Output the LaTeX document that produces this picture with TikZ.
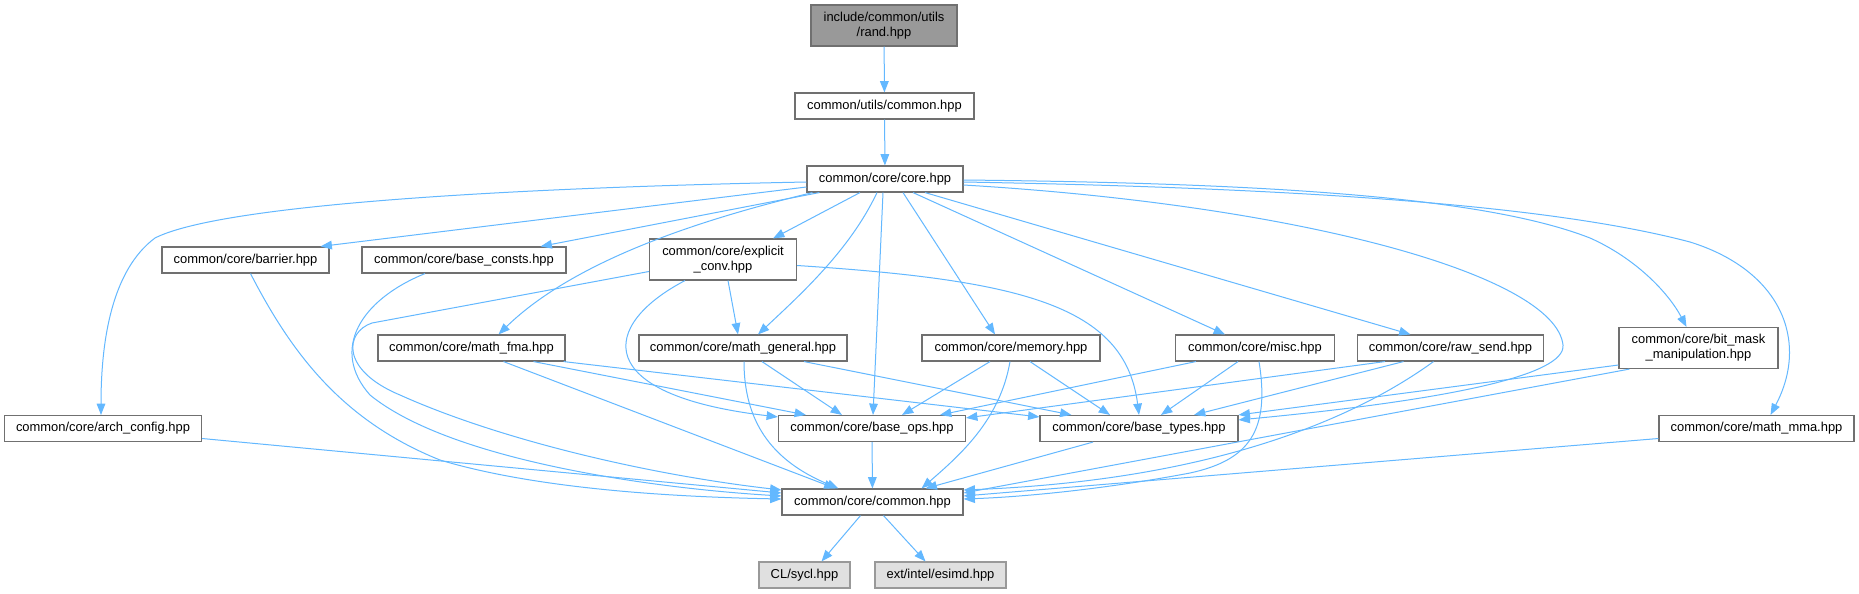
\documentclass[tikz,border=0pt]{standalone}
\usepackage{fontspec}
\setmainfont{Liberation Sans}
\usepackage{xcolor}
\usepackage{tikz}
\usetikzlibrary{arrows.meta,calc}

\definecolor{edgeblue}{HTML}{63B8FF}
\definecolor{boxline}{HTML}{707070}
\definecolor{rootfill}{HTML}{999999}
\definecolor{extfill}{HTML}{E0E0E0}
\definecolor{extline}{HTML}{999999}

\begin{document}
\begin{tikzpicture}[
  x=0.75pt,
  y=-0.75pt,
  file/.style={draw=boxline, fill=white, line width=0.85pt, minimum height=19.5pt,
    inner sep=0pt, align=center, font=\fontsize{9.7}{11.25}\selectfont},
  rootfile/.style={file, fill=rootfill, minimum height=30.75pt},
  twoline/.style={file, minimum height=30.75pt},
  extfile/.style={file, draw=extline, fill=extfill},
  dep/.style={draw=edgeblue, line width=0.75pt, -{Triangle[length=8.5pt,width=6.5pt]}}
]

% Canvas: coordinates are pixels of the 1859 x 593 reference.
\fill[white] (0,0) rectangle (1859,593);

% Files, row by row.
\node[rootfile, minimum width=109.5pt] (rand) at (884,25.5) {include/common/utils\\/rand.hpp};
\node[file, minimum width=134.25pt] (utils) at (884.5,106) {common/utils/common.hpp};
\node[file, minimum width=117pt] (core) at (885,179) {common/core/core.hpp};

\node[file, minimum width=125.25pt] (barrier) at (245.5,260) {common/core/barrier.hpp};
\node[file, minimum width=153pt] (baseconsts) at (464,260) {common/core/base\_consts.hpp};
\node[twoline, minimum width=110.25pt] (explicit) at (723,259.5) {common/core/explicit\\\_conv.hpp};

\node[file, minimum width=140.25pt] (mathfma) at (471.5,348) {common/core/math\_fma.hpp};
\node[file, minimum width=156pt] (mathgen) at (743,348) {common/core/math\_general.hpp};
\node[file, minimum width=133.5pt] (memory) at (1011,348) {common/core/memory.hpp};
\node[file, minimum width=119.25pt] (misc) at (1255,348) {common/core/misc.hpp};
\node[file, minimum width=139.5pt] (rawsend) at (1450.5,348) {common/core/raw\_send.hpp};
\node[twoline, minimum width=119.25pt] (bitmask) at (1698.5,348) {common/core/bit\_mask\\\_manipulation.hpp};

\node[file, minimum width=147.75pt] (arch) at (103,428.5) {common/core/arch\_config.hpp};
\node[file, minimum width=140.25pt] (baseops) at (872,428.5) {common/core/base\_ops.hpp};
\node[file, minimum width=148.5pt] (basetypes) at (1139,428.5) {common/core/base\_types.hpp};
\node[file, minimum width=146.25pt] (mathmma) at (1756.5,428.5) {common/core/math\_mma.hpp};

\node[file, minimum width=135.75pt] (common) at (872.5,502) {common/core/common.hpp};
\node[extfile, minimum width=68.25pt] (sycl) at (804.5,575) {CL/sycl.hpp};
\node[extfile, minimum width=98.25pt] (esimd) at (940.5,575) {ext/intel/esimd.hpp};

% Top chain.
\draw[dep] (rand) -- (utils);
\draw[dep] (utils) -- (core);

% Everything core.hpp pulls in.
\draw[dep] ($(core.west)+(0,3)$) .. controls (500,188) and (220,205) .. (155,238)
  .. controls (112,270) and (101,340) .. ($(arch.north)+(-2,0)$);
\draw[dep] ($(core.west)+(0,8)$) -- ($(barrier.north east)+(-9,0)$);
\draw[dep] ($(core.south west)+(13,0)$) -- ($(baseconsts.north east)+(-26,0)$);
\draw[dep] ($(core.south west)+(6,0)$) .. controls (720,215) and (580,255) .. ($(mathfma.north)+(27,0)$);
\draw[dep] ($(core.south)+(-25,0)$) -- ($(explicit.north east)+(-24,0)$);
\draw[dep] ($(core.south)+(-8,0)$) .. controls (850,250) and (800,295) .. ($(mathgen.north)+(15,0)$);
\draw[dep] ($(core.south)+(-2,0)$) -- ($(baseops.north)+(1,0)$);
\draw[dep] ($(core.south)+(18,0)$) -- ($(memory.north)+(-16,0)$);
\draw[dep] ($(core.south)+(28,0)$) -- ($(misc.north)+(-30,0)$);
\draw[dep] ($(core.south)+(40,0)$) -- ($(rawsend.north)+(-40,0)$);
\draw[dep] ($(core.east)+(0,6)$) .. controls (1300,205) and (1555,275) .. (1563,345)
  .. controls (1566,375) and (1450,400) .. ($(basetypes.north east)+(0,5)$);
\draw[dep] ($(core.east)+(0,1)$) .. controls (1250,183) and (1480,195) .. (1590,238)
  .. controls (1635,258) and (1668,292) .. ($(bitmask.north)+(-12,0)$);
\draw[dep] ($(core.east)+(0,3)$) .. controls (1300,188) and (1550,205) .. (1690,242)
  .. controls (1780,270) and (1810,340) .. ($(mathmma.north)+(14,0)$);

% explicit_conv.hpp
\draw[dep] ($(explicit.south)+(5,0)$) -- ($(mathgen.north)+(-5,0)$);
\draw[dep] ($(explicit.south)+(-38,0)$) .. controls (600,325) and (590,395) .. ($(baseops.north west)+(0,2)$);
\draw[dep] ($(explicit.east)+(0,6)$) .. controls (1020,280) and (1125,305) .. (basetypes.north);
\draw[dep] ($(explicit.west)+(0,12)$) -- (372,323) .. controls (345,332) and (340,370) .. (400,395)
  .. controls (500,440) and (650,475) .. ($(common.west)+(0,-12)$);

% Left column into common.hpp.
\draw[dep] ($(arch.east)+(0,10)$) -- ($(common.west)+(0,-9)$);
\draw[dep] ($(barrier.south)+(5,0)$) .. controls (290,350) and (340,420) .. (440,460)
  .. controls (540,490) and (680,497) .. ($(common.west)+(0,-3)$);
\draw[dep] ($(baseconsts.south)+(-39,0)$) .. controls (360,300) and (330,350) .. (370,395)
  .. controls (450,460) and (650,488) .. ($(common.west)+(0,-6)$);

% math_fma.hpp and math_general.hpp
\draw[dep] ($(mathfma.south)+(32,0)$) -- ($(common.north west)+(54,0)$);
\draw[dep] ($(mathfma.south)+(62,0)$) -- ($(baseops.north west)+(28,0)$);
\draw[dep] ($(mathfma.south east)+(-2,0)$) -- ($(basetypes.north west)+(0,2)$);
\draw[dep] ($(mathgen.south)+(1,0)$) .. controls (744,420) and (770,460) .. ($(common.north west)+(57,0)$);
\draw[dep] ($(mathgen.south)+(19,0)$) -- ($(baseops.north west)+(64,0)$);
\draw[dep] ($(mathgen.south)+(61,0)$) -- ($(basetypes.north west)+(32,0)$);

% memory.hpp, misc.hpp, raw_send.hpp
\draw[dep] ($(memory.south)+(-21,0)$) -- ($(baseops.north)+(30,0)$);
\draw[dep] ($(memory.south)+(-1,0)$) .. controls (1000,420) and (960,455) .. ($(common.north east)+(-42,0)$);
\draw[dep] ($(memory.south)+(19,0)$) -- ($(basetypes.north)+(-29,0)$);
\draw[dep] ($(misc.south west)+(21,0)$) -- ($(baseops.north)+(68,0)$);
\draw[dep] ($(misc.south)+(-17,0)$) -- ($(basetypes.north)+(22,0)$);
\draw[dep] ($(misc.south)+(4,0)$) .. controls (1270,430) and (1250,460) .. (1190,473)
  .. controls (1100,490) and (1020,497) .. ($(common.east)+(0,-3)$);
\draw[dep] ($(rawsend.south west)+(28,0)$) -- ($(baseops.north east)+(0,3)$);
\draw[dep] ($(rawsend.south)+(-47,0)$) -- ($(basetypes.north)+(55,0)$);
\draw[dep] ($(rawsend.south)+(-17,0)$) .. controls (1360,415) and (1220,480) .. ($(common.east)+(0,-12)$);

% Right column.
\draw[dep] ($(bitmask.west)+(0,17)$) -- (basetypes.north east);
\draw[dep] ($(bitmask.south west)+(11,0)$) -- ($(common.east)+(0,-9)$);
\draw[dep] ($(mathmma.west)+(0,10)$) -- ($(common.east)+(0,-6)$);

% Bottom.
\draw[dep] (baseops) -- (common);
\draw[dep] ($(basetypes.south)+(-46,0)$) -- ($(common.north east)+(-38,0)$);
\draw[dep] ($(common.south)+(-12,0)$) -- ($(sycl.north)+(17,0)$);
\draw[dep] ($(common.south)+(11,0)$) -- ($(esimd.north)+(-15,0)$);
\end{tikzpicture}
\end{document}
